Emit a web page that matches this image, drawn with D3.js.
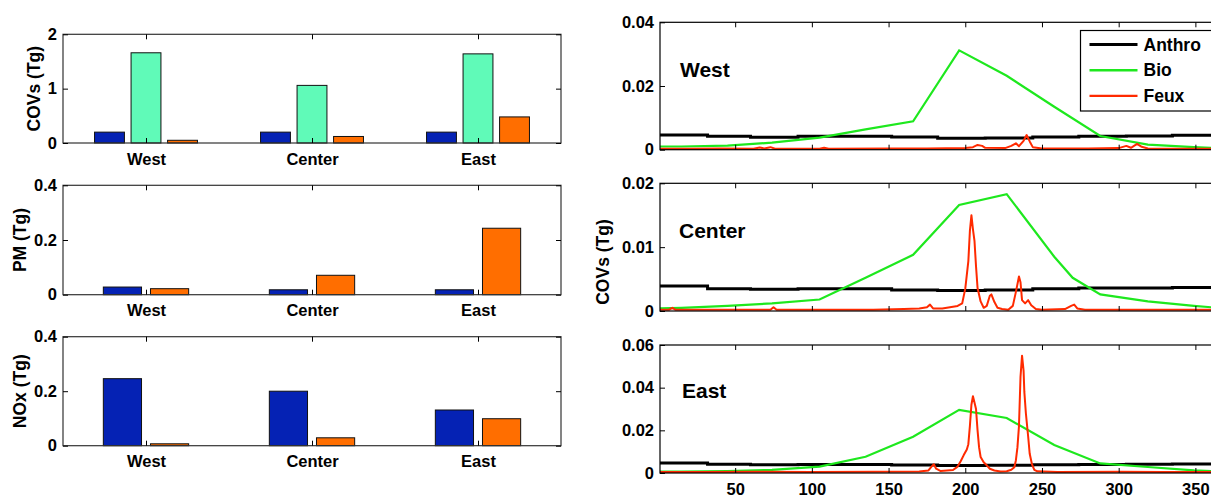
<!DOCTYPE html>
<html>
<head>
<meta charset="utf-8">
<title>emissions</title>
<style>
  body{margin:0;background:#fff;}
  text{font-family:"Liberation Sans",Arial,sans-serif;font-weight:bold;fill:#000;}
  .axis text{font-size:16.5px;}
  .axis line{stroke:#000;}
  .axis path{display:none;}
</style>
<script src="https://d3js.org/d3.v7.min.js"></script>
</head>
<body>
<svg width="1211" height="498"></svg>
<script>
// ---- data ----
var regions = ["West", "Center", "East"];

// annual totals (Tg)
var covAnthro = [0.20, 0.20, 0.20],
    covBio    = [1.66, 1.06, 1.64],
    covFire   = [0.05, 0.12, 0.48];
var pmAnthro  = [0.028, 0.018, 0.018],
    pmFire    = [0.022, 0.071, 0.243];
var noxAnthro = [0.246, 0.200, 0.131],
    noxFire   = [0.007, 0.029, 0.099];

var yTicksCov = [0, 1, 2],
    yTicksPM  = [0, 0.2, 0.4],
    yTicksNOx = [0, 0.2, 0.4];

// daily COVs (Tg), day of year
var dayTicks = [50, 100, 150, 200, 250, 300, 350];
var monthStart = [1, 32, 60, 91, 121, 152, 182, 213, 244, 274, 305, 335, 365];

var westAnthro   = [0.0046, 0.0042, 0.0039, 0.0042, 0.0042, 0.0040, 0.0036, 0.0037, 0.0040, 0.0042, 0.0043, 0.0045, 0.0045];
var centerAnthro = [0.0039, 0.0035, 0.0034, 0.0035, 0.0035, 0.0033, 0.0032, 0.0033, 0.0035, 0.0036, 0.0036, 0.0037, 0.0037];
var eastAnthro   = [0.0047, 0.0041, 0.0039, 0.0040, 0.0040, 0.0037, 0.0035, 0.0036, 0.0039, 0.0040, 0.0041, 0.0042, 0.0042];

var westBio = [[1,0.0010],[15,0.0010],[45,0.0013],[74,0.0022],[105,0.0038],[135,0.0064],[166,0.0089],[196,0.0312],
  [227,0.0232],[258,0.0135],[288,0.0043],[319,0.0016],[349,0.0008],[365,0.0005]];
var centerBio = [[1,0.0004],[15,0.0005],[45,0.0008],[74,0.0012],[105,0.0018],[135,0.0052],[166,0.0088],[196,0.0166],
  [227,0.0183],[258,0.0085],[270,0.0052],[288,0.0026],[319,0.0015],[349,0.0008],[365,0.0005]];
var eastBio = [[1,0.0006],[15,0.0007],[45,0.0009],[74,0.0015],[105,0.0030],[135,0.0076],[166,0.0170],[196,0.0296],
  [227,0.0258],[258,0.0131],[288,0.0045],[319,0.0028],[349,0.0012],[365,0.0008]];

var westFire = [[1,0.0003],[20,0.0003],[40,0.0004],[62,0.0003],[66,0.0007],[69,0.0004],[73,0.0008],[76,0.0003],
  [105,0.0003],[108,0.0006],[111,0.0003],[150,0.0004],[175,0.0004],[200,0.0005],[205,0.0008],[208,0.0015],
  [211,0.0012],[213,0.0006],[226,0.0005],[230,0.0012],[233,0.0020],[235,0.0011],[238,0.0028],[240,0.0046],
  [242,0.0026],[244,0.0008],[250,0.0004],[280,0.0004],[300,0.0005],[305,0.0012],[308,0.0006],[312,0.0018],
  [315,0.0009],[319,0.0004],[340,0.0003],[365,0.0003]];
var centerFire = [[1,0.0002],[7,0.0002],[9,0.0005],[11,0.0002],[50,0.0002],[73,0.0002],[75,0.0006],[77,0.0002],
  [140,0.0002],[160,0.0003],[170,0.0004],[175,0.0006],[177,0.0010],[179,0.0004],[185,0.0004],[190,0.0006],
  [195,0.0008],[198,0.0012],[200,0.0035],[202,0.0078],[203,0.0125],[204,0.0150],[205,0.0128],[206,0.0110],
  [207,0.0070],[208,0.0036],[210,0.0015],[212,0.0005],[214,0.0008],[216,0.0024],[217,0.0026],[219,0.0014],
  [221,0.0005],[224,0.0003],[228,0.0002],[231,0.0008],[233,0.0030],[235,0.0054],[236,0.0045],[237,0.0017],
  [239,0.0012],[241,0.0017],[243,0.0009],[246,0.0003],[250,0.0002],[265,0.0003],[269,0.0008],[271,0.0010],
  [273,0.0004],[278,0.0002],[365,0.0002]];
var eastFire = [[1,0.0005],[30,0.0005],[60,0.0006],[100,0.0005],[140,0.0006],[170,0.0007],[176,0.0012],[178,0.0030],
  [179.5,0.0041],[181,0.0020],[184,0.0009],[188,0.0012],[192,0.0014],[195,0.0030],[197,0.0055],[199,0.0084],
  [201,0.0110],[202,0.0135],[203,0.0220],[204,0.0320],[205,0.0360],[206,0.0330],[207,0.0300],[208,0.0200],
  [209,0.0120],[210,0.0075],[212,0.0050],[214,0.0036],[216,0.0020],[219,0.0012],[223,0.0007],[227,0.0008],
  [230,0.0015],[232,0.0027],[233,0.0060],[234,0.0120],[235,0.0220],[236,0.0450],[237,0.0550],[238,0.0480],
  [238.5,0.0380],[239.5,0.0280],[241,0.0170],[242,0.0090],[243.5,0.0040],[245,0.0015],[247,0.0008],
  [260,0.0005],[300,0.0006],[330,0.0005],[365,0.0005]];

var legendNames = ["Anthro", "Bio", "Feux"];

// ---- styles ----
var cBlue = "#0522b4", cMint = "#60fab8", cOrange = "#ff6e00";
var cLine = ["#000000", "#1ee81e", "#ff2a00"];

var svg = d3.select("svg");

// ---------- left: bar panels ----------
var bx = d3.scaleLinear().domain([0.5, 3.5]).range([63, 561]);

var barPanels = [
  {name: "COVs (Tg)", top: 34.3, bottom: 143, max: 2, ticks: yTicksCov, labX: 34,
   series: [covAnthro, covBio, covFire], colors: [cBlue, cMint, cOrange], off: [-0.22, 0, 0.22], w: 0.18},
  {name: "PM (Tg)", top: 185.3, bottom: 294.7, max: 0.4, ticks: yTicksPM, labX: 20,
   series: [pmAnthro, pmFire], colors: [cBlue, cOrange], off: [-0.142, 0.142], w: 0.23},
  {name: "NOx (Tg)", top: 336.7, bottom: 445.7, max: 0.4, ticks: yTicksNOx, labX: 20,
   series: [noxAnthro, noxFire], colors: [cBlue, cOrange], off: [-0.142, 0.142], w: 0.23}
];

barPanels.forEach(function(p){
  var y = d3.scaleLinear().domain([0, p.max]).range([p.bottom, p.top]);
  var g = svg.append("g");

  p.series.forEach(function(s, k){
    g.selectAll(null).data(s).enter().append("rect")
      .attr("x", function(d, i){ return bx(i + 1 + p.off[k] - p.w/2); })
      .attr("width", bx(p.w) - bx(0))
      .attr("y", function(d){ return y(d); })
      .attr("height", function(d){ return y(0) - y(d); })
      .attr("fill", p.colors[k])
      .attr("stroke", "#111").attr("stroke-width", 1);
  });

  g.append("rect")
    .attr("x", 63).attr("y", p.top).attr("width", 561 - 63).attr("height", p.bottom - p.top)
    .attr("fill", "none").attr("stroke", "#333").attr("stroke-width", 1.2);

  g.append("g").attr("class", "axis").attr("transform", "translate(0," + p.bottom + ")")
    .call(d3.axisBottom(bx).tickValues([1, 2, 3]).tickFormat(function(d){ return regions[d-1]; })
      .tickSizeInner(-5).tickSizeOuter(0).tickPadding(10));
  g.append("g").attr("class", "axis").attr("transform", "translate(0," + p.top + ")")
    .call(d3.axisTop(bx).tickValues([1, 2, 3]).tickFormat("").tickSizeInner(-5).tickSizeOuter(0));
  g.append("g").attr("class", "axis").attr("transform", "translate(63,0)")
    .call(d3.axisLeft(y).tickValues(p.ticks).tickFormat(d3.format("~g"))
      .tickSizeInner(-5).tickSizeOuter(0).tickPadding(6));
  g.append("g").attr("class", "axis").attr("transform", "translate(561,0)")
    .call(d3.axisRight(y).tickValues(p.ticks).tickFormat("").tickSizeInner(-5).tickSizeOuter(0));

  g.append("text")
    .attr("transform", "translate(" + p.labX + "," + ((p.top + p.bottom)/2) + ") rotate(-90)")
    .attr("text-anchor", "middle").attr("dy", "0.35em")
    .style("font-size", "17.5px").text(p.name);
});

// ---------- right: daily series ----------
var lx = d3.scaleLinear().domain([1, 365]).range([660, 1218.4]);

var linePanels = [
  {name: "West", top: 22.3, bottom: 149.7, max: 0.04, ticks: [0, 0.02, 0.04],
   anthro: westAnthro, bio: westBio, fire: westFire, lab: [680, 77], legend: true},
  {name: "Center", top: 183.3, bottom: 311, max: 0.02, ticks: [0, 0.01, 0.02],
   anthro: centerAnthro, bio: centerBio, fire: centerFire, lab: [679, 238]},
  {name: "East", top: 345, bottom: 473, max: 0.06, ticks: [0, 0.02, 0.04, 0.06],
   anthro: eastAnthro, bio: eastBio, fire: eastFire, lab: [682, 398], xlabels: true}
];

linePanels.forEach(function(p){
  var y = d3.scaleLinear().domain([0, p.max]).range([p.bottom, p.top]);
  var g = svg.append("g");
  var line = d3.line().x(function(d){ return lx(d[0]); }).y(function(d){ return y(d[1]); });
  var step = d3.line().curve(d3.curveStepAfter)
    .x(function(d, i){ return lx(monthStart[i]); }).y(function(d){ return y(d); });

  g.append("path").attr("d", step(p.anthro)).attr("fill", "none")
    .attr("stroke", cLine[0]).attr("stroke-width", 3);
  g.append("path").attr("d", line(p.bio)).attr("fill", "none")
    .attr("stroke", cLine[1]).attr("stroke-width", 2.2);
  g.append("path").attr("d", line(p.fire)).attr("fill", "none")
    .attr("stroke", cLine[2]).attr("stroke-width", 2).attr("stroke-linejoin", "round");

  g.append("rect")
    .attr("x", 660).attr("y", p.top).attr("width", 1218.4 - 660).attr("height", p.bottom - p.top)
    .attr("fill", "none").attr("stroke", "#000").attr("stroke-width", 1.2);

  g.append("g").attr("class", "axis").attr("transform", "translate(0," + p.bottom + ")")
    .call(d3.axisBottom(lx).tickValues(dayTicks).tickFormat(p.xlabels ? d3.format("d") : "")
      .tickSizeInner(-5).tickSizeOuter(0).tickPadding(10));
  g.append("g").attr("class", "axis").attr("transform", "translate(0," + p.top + ")")
    .call(d3.axisTop(lx).tickValues(dayTicks).tickFormat("").tickSizeInner(-5).tickSizeOuter(0));
  g.append("g").attr("class", "axis").attr("transform", "translate(660,0)")
    .call(d3.axisLeft(y).tickValues(p.ticks).tickFormat(d3.format("~g"))
      .tickSizeInner(-5).tickSizeOuter(0).tickPadding(6));

  g.append("text").attr("x", p.lab[0]).attr("y", p.lab[1])
    .style("font-size", "21px").text(p.name);

  if (p.legend) {
    var lg = svg.append("g").attr("transform", "translate(1080.5,30.5)");
    lg.append("rect").attr("width", 160).attr("height", 80.5)
      .attr("fill", "#fff").attr("stroke", "#000").attr("stroke-width", 1.2);
    legendNames.forEach(function(n, i){
      var yy = 14 + i * 25.7;
      lg.append("line").attr("x1", 9).attr("x2", 57).attr("y1", yy).attr("y2", yy)
        .attr("stroke", cLine[i]).attr("stroke-width", i === 0 ? 3 : 2.4);
      lg.append("text").attr("x", 63).attr("y", yy).attr("dy", "0.35em")
        .style("font-size", "17.5px").text(n);
    });
  }
});

svg.append("text")
  .attr("transform", "translate(603,262) rotate(-90)")
  .attr("text-anchor", "middle").attr("dy", "0.35em")
  .style("font-size", "17.5px").text("COVs (Tg)");
</script>
</body>
</html>
